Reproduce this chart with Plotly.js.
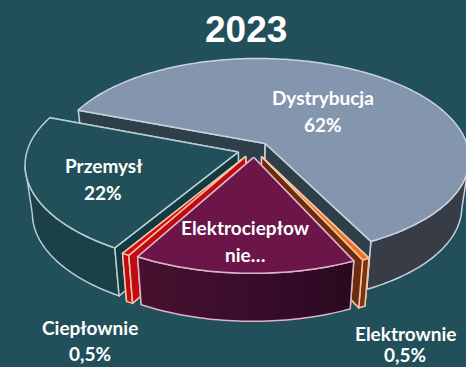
<!DOCTYPE html>
<html lang="pl"><head><meta charset="utf-8"><script src="https://cdn.plot.ly/plotly-3.0.1.min.js"></script>
<style>html,body{margin:0;padding:0;background:#22505a}</style></head><body><div id="chart" style="width:466px;height:367px"></div>
<script>
// Shares of heat consumption, clockwise from the back-left edge of the pie
const categories = ['Dystrybucja', 'Elektrownie', 'Elektrociepłownie', 'Ciepłownie', 'Przemysł'];
const shares = [62, 0.5, 15, 0.5, 22];
const topColors = ['#8496ae', '#f0701f', '#6b1549', '#d60a14', '#22505a'];
const sideColors = ['#383c47', '#7d3312', '#3d0e2c', '#c20a12', '#1c4048'];
const wallColors = ['#2f3f4a', '#6e2a0c', '#3d0e2c', '#c20a12', '#123a40'];
const edgeColors = ['#c9d2dc', '#f0c6a6', '#dcb6c8', '#f0c6a6', '#b9cdd2'];

// Text drawn on and around the pie: [first line, second line, x, y of first line, y of second line]
const labels = [
  ['Dystrybucja', '62%', 323, 97, 124],
  ['Przemysł', '22%', 103, 165, 192],
  ['Elektrociepłow', 'nie…', 245, 227, 254],
  ['Ciepłownie', '0,5%', 90, 327, 353],
  ['Elektrownie', '0,5%', 405, 333, 354]
];

// Perspective projection of the unit disc onto the plot, plus extrusion
const H = [212.4762, -16.8872, 254.1935, -2.6952, 77.9324, 149.3398, 0.0250, -0.1331];
const startAngle = 294.674, explode = 0.0809, depth = 48, taper = 0.967, axisMid = 245;

function project(dx, dy) {
  const w = H[6] * dx + H[7] * dy + 1;
  return [(H[0] * dx + H[1] * dy + H[2]) / w, (H[3] * dx + H[4] * dy + H[5]) / w];
}
const lower = p => [axisMid + (p[0] - axisMid) * taper, p[1] + depth];

function poly(points, fillColor, lineColor, name, gradient) {
  const t = {
    x: points.map(p => p[0]), y: points.map(p => p[1]), name,
    mode: 'lines', fill: 'toself', fillcolor: fillColor,
    line: { color: lineColor, width: 1.5, simplify: false }, hoverinfo: 'skip'
  };
  if (gradient) { t.fillgradient = gradient; delete t.fillcolor; }
  return t;
}

const traces = [];
const wedges = [];
let angle = startAngle;
shares.forEach((share, i) => {
  const a = angle, b = a + share * 3.6, m = (a + b) / 2 * Math.PI / 180;
  const ox = explode * Math.sin(m), oy = -explode * Math.cos(m);
  const at = deg => { const r = deg * Math.PI / 180; return project(ox + Math.sin(r), oy - Math.cos(r)); };
  const n = Math.max(4, Math.ceil(share * 3));
  const arc = [];
  for (let k = 0; k <= n; k++) arc.push(at(a + (b - a) * k / n));
  wedges.push({ i, apex: project(ox, oy), arc, mid: at((a + b) / 2) });
  angle = b;
});

// A cut face shows when the wedge lies above its edge on screen
function faceVisible(apex, end, mid) {
  const s = (mid[0] - apex[0]) / (end[0] - apex[0]);
  return mid[1] < apex[1] + s * (end[1] - apex[1]);
}
function wallPoly(apex, end) { return [apex, end, lower(end), lower(apex), apex]; }

// The rim faces the viewer only where the clockwise arc runs leftwards on screen
function frontArc(arc) {
  return arc.filter((p, k) => {
    const prev = arc[Math.max(0, k - 1)], next = arc[Math.min(arc.length - 1, k + 1)];
    return next[0] <= prev[0];
  });
}

// Painter's order: back slice first, largest front slice last
[0, 4, 3, 1, 2].forEach(idx => {
  const w = wedges[idx], i = w.i, last = w.arc[w.arc.length - 1], first = w.arc[0];
  const faces = [first, last].map(e => ({ e, vis: faceVisible(w.apex, e, w.mid) }));
  const drawFace = f => traces.push(poly(wallPoly(w.apex, f.e), wallColors[i], edgeColors[i], categories[i] + ' face'));
  faces.filter(f => !f.vis).forEach(drawFace);
  const front = frontArc(w.arc);
  const rim = front.concat(front.slice().reverse().map(lower), [front[0]]);
  const grad = i === 2 ? { type: 'horizontal', colorscale: [[0, '#47112f'], [0.5, '#3a0d2a'], [1, '#2a0820']] } : null;
  traces.push(poly(rim, sideColors[i], edgeColors[i], categories[i] + ' rim', grad));
  faces.filter(f => f.vis).forEach(drawFace);
  traces.push(poly([w.apex].concat(w.arc, [w.apex]), topColors[i], edgeColors[i], categories[i]));
});

const annotations = [{ x: 246, y: 29, text: '<b>2023</b>', showarrow: false, xref: 'x', yref: 'y',
  font: { family: 'Liberation Sans, Arial, sans-serif', size: 37, color: '#ffffff' } }];
labels.forEach(l => {
  [[l[0], l[3]], [l[1], l[4]]].forEach(([text, y]) => annotations.push({
    x: l[2], y, text: '<b>' + text + '</b>', showarrow: false, xref: 'x', yref: 'y',
    font: { family: 'Lato, sans-serif', size: 19, color: '#ffffff' } }));
});

Plotly.newPlot('chart', traces, {
  width: 466, height: 367, margin: { l: 0, r: 0, t: 0, b: 0 }, showlegend: false,
  paper_bgcolor: '#22505a', plot_bgcolor: '#22505a',
  xaxis: { range: [0, 466], visible: false, fixedrange: true },
  yaxis: { range: [367, 0], visible: false, fixedrange: true },
  annotations
}, { staticPlot: true });
</script></body></html>
